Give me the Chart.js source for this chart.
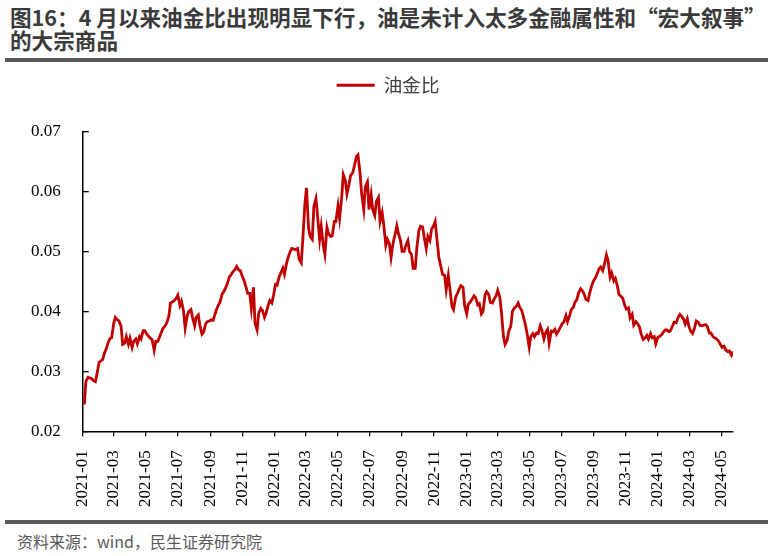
<!DOCTYPE html>
<html>
<head>
<meta charset="utf-8">
<script src="https://cdn.jsdelivr.net/npm/chart.js@4.4.1/dist/chart.umd.min.js"></script>
<style>
  html, body { margin: 0; padding: 0; background: #fff; }
  body { width: 774px; height: 556px; position: relative; overflow: hidden; }
  #titre {
    position: absolute; left: 10px; top: 5px; width: 764px;
    font-family: "Noto Sans CJK SC", sans-serif; font-weight: bold;
    font-size: 21.6px; line-height: 23px; color: #3a3a3a; white-space: nowrap;
  }
  .regle { position: absolute; left: 5px; width: 763px; height: 4px; background: #595959; }
  #source {
    position: absolute; left: 17px; top: 529px;
    font-family: "Noto Sans CJK SC", sans-serif; font-size: 16px; color: #595959;
  }
  #zone { position: absolute; left: 0; top: 62px; }
</style>
</head>
<body>
<div id="titre">图16：4 月以来油金比出现明显下行，油是未计入太多金融属性和“宏大叙事”<br>的大宗商品</div>
<canvas id="zone" width="774" height="459"></canvas>
<div class="regle" style="top:58px"></div>
<div class="regle" style="top:520px"></div>
<div id="source">资料来源：wind，民生证券研究院</div>

<script>
// Série : ratio pétrole / or, relevé deux fois par semaine (lundi et jeudi) à partir du 2021-01-04
const serieNom = '油金比';
const premiereDate = '2021-01-04';
const ratio = [
  0.0245, 0.0283, 0.0290, 0.0289, 0.0288, 0.0285, 0.0283, 0.0295, 0.0315, 0.0317,
  0.0320, 0.0330, 0.0338, 0.0347, 0.0355, 0.0356, 0.0380, 0.0390, 0.0386, 0.0384,
  0.0375, 0.0345, 0.0347, 0.0358, 0.0345, 0.0355, 0.0340, 0.0350, 0.0354, 0.0346,
  0.0358, 0.0354, 0.0368, 0.0368, 0.0362, 0.0359, 0.0355, 0.0353, 0.0335, 0.0350,
  0.0350, 0.0357, 0.0366, 0.0372, 0.0376, 0.0381, 0.0392, 0.0414, 0.0416, 0.0418,
  0.0422, 0.0427, 0.0410, 0.0417, 0.0400, 0.0372, 0.0393, 0.0400, 0.0403, 0.0390,
  0.0376, 0.0390, 0.0394, 0.0377, 0.0362, 0.0365, 0.0379, 0.0383, 0.0384, 0.0386,
  0.0385, 0.0393, 0.0404, 0.0410, 0.0417, 0.0428, 0.0434, 0.0439, 0.0448, 0.0457,
  0.0462, 0.0466, 0.0470, 0.0475, 0.0469, 0.0468, 0.0458, 0.0452, 0.0440, 0.0430,
  0.0430, 0.0405, 0.0440, 0.0380, 0.0369, 0.0397, 0.0405, 0.0402, 0.0390, 0.0397,
  0.0410, 0.0418, 0.0414, 0.0426, 0.0445, 0.0444, 0.0458, 0.0464, 0.0472, 0.0462,
  0.0480, 0.0490, 0.0500, 0.0505, 0.0504, 0.0503, 0.0505, 0.0487, 0.0481, 0.0520,
  0.0580, 0.0606, 0.0538, 0.0525, 0.0520, 0.0575, 0.0588, 0.0560, 0.0520, 0.0542,
  0.0510, 0.0495, 0.0540, 0.0530, 0.0525, 0.0526, 0.0550, 0.0550, 0.0576, 0.0555,
  0.0590, 0.0628, 0.0618, 0.0596, 0.0612, 0.0627, 0.0631, 0.0642, 0.0658, 0.0661,
  0.0630, 0.0596, 0.0570, 0.0608, 0.0616, 0.0570, 0.0595, 0.0570, 0.0560, 0.0583,
  0.0590, 0.0550, 0.0565, 0.0545, 0.0510, 0.0520, 0.0512, 0.0490, 0.0515, 0.0526,
  0.0543, 0.0530, 0.0518, 0.0500, 0.0500, 0.0510, 0.0518, 0.0500, 0.0495, 0.0472,
  0.0472, 0.0505, 0.0535, 0.0542, 0.0541, 0.0524, 0.0505, 0.0525, 0.0518, 0.0537,
  0.0543, 0.0550, 0.0515, 0.0490, 0.0474, 0.0462, 0.0460, 0.0436, 0.0460, 0.0438,
  0.0408, 0.0403, 0.0424, 0.0429, 0.0438, 0.0443, 0.0440, 0.0410, 0.0396, 0.0412,
  0.0416, 0.0420, 0.0426, 0.0423, 0.0411, 0.0413, 0.0396, 0.0400, 0.0428, 0.0433,
  0.0428, 0.0415, 0.0414, 0.0420, 0.0426, 0.0435, 0.0424, 0.0400, 0.0358, 0.0345,
  0.0352, 0.0367, 0.0375, 0.0400, 0.0406, 0.0408, 0.0414, 0.0407, 0.0401, 0.0391,
  0.0377, 0.0363, 0.0340, 0.0358, 0.0363, 0.0358, 0.0364, 0.0363, 0.0376, 0.0369,
  0.0354, 0.0364, 0.0370, 0.0347, 0.0367, 0.0366, 0.0370, 0.0362, 0.0368, 0.0373,
  0.0380, 0.0382, 0.0393, 0.0383, 0.0393, 0.0403, 0.0407, 0.0415, 0.0420, 0.0431,
  0.0438, 0.0435, 0.0428, 0.0420, 0.0418, 0.0430, 0.0443, 0.0450, 0.0456, 0.0462,
  0.0471, 0.0474, 0.0468, 0.0478, 0.0494, 0.0485, 0.0457, 0.0464, 0.0451, 0.0455,
  0.0442, 0.0428, 0.0425, 0.0422, 0.0410, 0.0404, 0.0406, 0.0389, 0.0395, 0.0377,
  0.0383, 0.0380, 0.0374, 0.0363, 0.0353, 0.0355, 0.0360, 0.0354, 0.0363, 0.0356,
  0.0358, 0.0346, 0.0357, 0.0358, 0.0361, 0.0365, 0.0369, 0.0369, 0.0366, 0.0368,
  0.0376, 0.0382, 0.0381, 0.0389, 0.0395, 0.0392, 0.0387, 0.0379, 0.0388, 0.0375,
  0.0366, 0.0363, 0.0373, 0.0384, 0.0382, 0.0377, 0.0376, 0.0377, 0.0378, 0.0375,
  0.0364, 0.0364, 0.0358, 0.0356, 0.0354, 0.0351, 0.0345, 0.0340, 0.0342, 0.0336,
  0.0333, 0.0334, 0.0327, 0.0333
];

// Étiquettes de l'axe des x (un mois sur deux)
const moisAffiches = [
  '2021-01', '2021-03', '2021-05', '2021-07', '2021-09', '2021-11',
  '2022-01', '2022-03', '2022-05', '2022-07', '2022-09', '2022-11',
  '2023-01', '2023-03', '2023-05', '2023-07', '2023-09', '2023-11',
  '2024-01', '2024-03', '2024-05'
];
const bornesY = [0.02, 0.07];

const JOUR = 86400000;
const t0 = Date.parse(premiereDate + 'T00:00:00Z');
// lundi puis jeudi de chaque semaine
const dates = ratio.map((_, i) => t0 + (Math.floor(i / 2) * 7 + (i % 2) * 3) * JOUR);
const ticksMois = moisAffiches.map(m => Date.parse(m + '-01T00:00:00Z'));

function etiquetteMois(v) {
  const d = new Date(v);
  return d.getUTCFullYear() + '-' + String(d.getUTCMonth() + 1).padStart(2, '0');
}

// Légende un peu plus haute pour laisser de l'air au-dessus du graphique
const espaceLegende = {
  id: 'espaceLegende',
  beforeInit(chart) {
    const fitOrigine = chart.legend.fit;
    chart.legend.fit = function () {
      fitOrigine.call(this);
      this.height += 27;
    };
  }
};

const police = "'Liberation Serif', 'Times New Roman', serif";

new Chart(document.getElementById('zone').getContext('2d'), {
  type: 'line',
  data: {
    datasets: [{
      label: serieNom,
      data: ratio.map((v, i) => ({ x: dates[i], y: v })),
      borderColor: '#C00000',
      backgroundColor: '#C00000',
      borderWidth: 2.8,
      pointRadius: 0,
      tension: 0
    }]
  },
  options: {
    responsive: false,
    animation: false,
    layout: { padding: { left: 3, right: 1, top: 4, bottom: 0 } },
    plugins: {
      legend: {
        position: 'top',
        labels: {
          usePointStyle: true,
          pointStyle: 'line',
          pointStyleWidth: 38,
          color: '#404040',
          font: { family: "'Noto Sans CJK SC', sans-serif", size: 18.5 },
          padding: 10
        }
      },
      tooltip: { enabled: false }
    },
    scales: {
      x: {
        type: 'linear',
        min: Date.parse('2021-01-01T00:00:00Z'),
        max: dates[dates.length - 1],
        afterBuildTicks: (axe) => { axe.ticks = ticksMois.map(v => ({ value: v })); },
        // marge à droite gérée ici pour que la légende reste centrée sur la page
        afterFit: (axe) => { axe.paddingRight = 41; },
        ticks: {
          autoSkip: false,
          minRotation: 90,
          maxRotation: 90,
          padding: 14,
          color: '#000',
          font: { family: police, size: 17 },
          callback: (v) => etiquetteMois(v)
        },
        grid: { drawOnChartArea: false, drawTicks: true, tickLength: 5, color: '#000', lineWidth: 1.3 },
        border: { display: true, color: '#000', width: 1.5 }
      },
      y: {
        min: bornesY[0],
        max: bornesY[1],
        ticks: {
          stepSize: 0.01,
          padding: 28,
          color: '#000',
          font: { family: police, size: 17 },
          callback: (v) => v.toFixed(2)
        },
        grid: { drawOnChartArea: false, drawTicks: true, tickLength: -6, color: '#000', lineWidth: 1.3 },
        border: { display: true, color: '#000', width: 1.5 }
      }
    }
  },
  plugins: [espaceLegende]
});
</script>
</body>
</html>
